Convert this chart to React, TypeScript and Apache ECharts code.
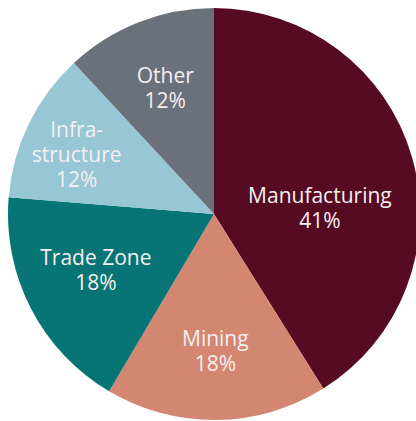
import React, { useEffect, useRef } from "react";
import * as echarts from "echarts";

const categories = ["Manufacturing", "Mining", "Trade Zone", "Infra-\nstructure", "Other"];
const values = [41.1, 17.4, 17.8, 11.8, 11.9];
const percentLabels = ["41%", "18%", "18%", "12%", "12%"];
const colors = ["#560B23", "#D38670", "#077575", "#97C6D4", "#6A717B"];
const labelShift = [
  [4, 23],
  [0, 31],
  [-24, 7],
  [-42, -14],
  [-10, -28],
];

export default function App() {
  const ref = useRef<HTMLDivElement>(null);
  useEffect(() => {
    if (!ref.current) return;
    const chart = echarts.init(ref.current, null, { renderer: "svg" });
    chart.setOption({
      animation: false,
      series: [
        {
          type: "pie",
          center: [214, 214],
          radius: [0, 206],
          startAngle: 90,
          clockwise: true,
          avoidLabelOverlap: false,
          itemStyle: { borderWidth: 0 },
          label: {
            show: true,
            position: "inside",
            color: "#F5EFF0",
            fontFamily: "Open Sans",
            fontSize: 21,
            lineHeight: 25,
            align: "center",
            formatter: (p: any) => `${p.name}\n${percentLabels[p.dataIndex]}`,
          },
          labelLine: { show: false },
          emphasis: { disabled: true },
          labelLayout: (p: any) => ({ dx: labelShift[p.dataIndex][0], dy: labelShift[p.dataIndex][1] }),
          data: categories.map((c, i) => ({ name: c, value: values[i], itemStyle: { color: colors[i] } })),
        },
      ],
    });
    return () => chart.dispose();
  }, []);
  return (
    <div
      ref={ref}
      style={{ position: "fixed", left: 0, top: 0, width: 416, height: 421, background: "#ffffff" }}
    />
  );
}
